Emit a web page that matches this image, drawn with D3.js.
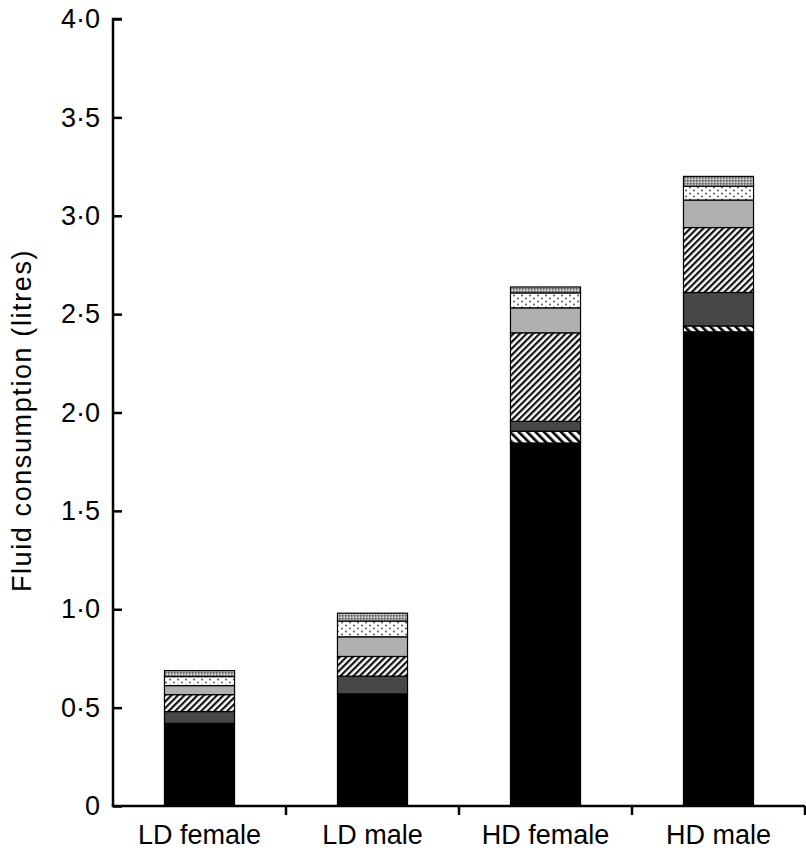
<!DOCTYPE html>
<html>
<head>
<meta charset="utf-8">
<script src="https://cdn.jsdelivr.net/npm/d3@7"></script>
<style>
  body { margin: 0; background: #fff; }
  svg text { font-family: "Liberation Sans", Arial, sans-serif; fill: #000; }
</style>
</head>
<body>
<script>
const WIDTH = 806;
const HEIGHT = 855;
const MARGIN = { top: 19, right: 1, bottom: 49, left: 113 };

// categories and series (bottom to top of each stack)
const categories = ["LD female", "LD male", "HD female", "HD male"];
const seriesKeys = ["solid", "backHatch", "darkGrey", "hatch", "lightGrey", "dotted", "checked"];

// values in litres, one per category
const solid = [0.42, 0.57, 1.845, 2.41];
const backHatch = [0.0, 0.0, 0.06, 0.03];
const darkGrey = [0.06, 0.09, 0.05, 0.17];
const hatch = [0.086, 0.1, 0.45, 0.33];
const lightGrey = [0.046, 0.1, 0.127, 0.14];
const dotted = [0.046, 0.08, 0.076, 0.07];
const checked = [0.03, 0.04, 0.03, 0.05];

const yTicks = [0, 0.5, 1, 1.5, 2, 2.5, 3, 3.5, 4];

const seriesValues = { solid, backHatch, darkGrey, hatch, lightGrey, dotted, checked };
const rows = categories.map((c, i) => {
  const row = { category: c };
  seriesKeys.forEach((k) => (row[k] = seriesValues[k][i]));
  return row;
});

const svg = d3.select("body").append("svg").attr("width", WIDTH).attr("height", HEIGHT);

// fill patterns
const defs = svg.append("defs");

const bh = defs.append("pattern").attr("id", "backHatch").attr("patternUnits", "userSpaceOnUse")
  .attr("width", 6).attr("height", 6).attr("patternTransform", "rotate(-45)");
bh.append("rect").attr("width", 6).attr("height", 6).attr("fill", "#fff");
bh.append("rect").attr("width", 2.6).attr("height", 6).attr("fill", "#000");

const h = defs.append("pattern").attr("id", "hatch").attr("patternUnits", "userSpaceOnUse")
  .attr("width", 4.6).attr("height", 4.6).attr("patternTransform", "rotate(45)");
h.append("rect").attr("width", 4.6).attr("height", 4.6).attr("fill", "#fff");
h.append("rect").attr("width", 2.2).attr("height", 4.6).attr("fill", "#111");

const dp = defs.append("pattern").attr("id", "dotted").attr("patternUnits", "userSpaceOnUse")
  .attr("width", 8).attr("height", 6);
dp.append("rect").attr("width", 8).attr("height", 6).attr("fill", "#fff");
dp.append("circle").attr("cx", 2).attr("cy", 1.5).attr("r", 1).attr("fill", "#555");
dp.append("circle").attr("cx", 6).attr("cy", 4.5).attr("r", 1).attr("fill", "#555");

const cp = defs.append("pattern").attr("id", "checked").attr("patternUnits", "userSpaceOnUse")
  .attr("width", 3).attr("height", 3);
cp.append("rect").attr("width", 3).attr("height", 3).attr("fill", "#a0a0a0");
cp.append("rect").attr("width", 1.5).attr("height", 1.5).attr("fill", "#606060");
cp.append("rect").attr("x", 1.5).attr("y", 1.5).attr("width", 1.5).attr("height", 1.5).attr("fill", "#d8d8d8");

const fills = {
  solid: "#000",
  backHatch: "url(#backHatch)",
  darkGrey: "#474747",
  hatch: "url(#hatch)",
  lightGrey: "#b0b0b0",
  dotted: "url(#dotted)",
  checked: "url(#checked)",
};

const x = d3.scaleBand()
  .domain(categories)
  .range([MARGIN.left, WIDTH - MARGIN.right])
  .paddingInner(0.595)
  .paddingOuter(0.2975);

const y = d3.scaleLinear()
  .domain([0, 4])
  .range([HEIGHT - MARGIN.bottom, MARGIN.top]);

const stacked = d3.stack().keys(seriesKeys)(rows);

// bars
svg.append("g")
  .selectAll("g")
  .data(stacked)
  .join("g")
  .attr("fill", (d) => fills[d.key])
  .selectAll("rect")
  .data((d) => d.filter((p) => p[1] - p[0] > 0))
  .join("rect")
  .attr("x", (d) => x(d.data.category))
  .attr("y", (d) => y(d[1]))
  .attr("width", x.bandwidth())
  .attr("height", (d) => y(d[0]) - y(d[1]))
  .attr("stroke", "#000")
  .attr("stroke-width", 1.2);

// y axis
const fmt = (v) => (v === 0 ? "0" : d3.format(".1f")(v).replace(".", "\u00b7"));
const yAxis = svg.append("g")
  .attr("transform", `translate(${MARGIN.left},0)`)
  .call(d3.axisRight(y).tickValues(yTicks).tickSize(9).tickFormat(fmt));
yAxis.select(".domain").attr("d", `M9,${y(4)}H0V${y(0)}`).attr("stroke-width", 2.5);
yAxis.selectAll(".tick line").attr("stroke-width", 2.5);
yAxis.selectAll(".tick text")
  .attr("x", -13)
  .attr("text-anchor", "end")
  .attr("font-size", 27)
  .attr("font-family", "Liberation Sans, Arial, sans-serif");

// x axis with ticks between categories
const xAxis = svg.append("g").attr("transform", `translate(0,${y(0)})`);
xAxis.append("line")
  .attr("x1", MARGIN.left - 1.25)
  .attr("x2", WIDTH - MARGIN.right)
  .attr("stroke", "#000")
  .attr("stroke-width", 2.5);
xAxis.selectAll(".sep")
  .data(categories.slice(1).concat(["end"]))
  .join("line")
  .attr("class", "sep")
  .attr("x1", (d, i) => MARGIN.left + x.step() * (i + 1))
  .attr("x2", (d, i) => MARGIN.left + x.step() * (i + 1))
  .attr("y1", 0)
  .attr("y2", 9)
  .attr("stroke", "#000")
  .attr("stroke-width", 2.5);
xAxis.selectAll(".lab")
  .data(categories)
  .join("text")
  .attr("class", "lab")
  .attr("x", (d) => x(d) + x.bandwidth() / 2)
  .attr("y", 38)
  .attr("text-anchor", "middle")
  .attr("font-size", 27)
  .text((d) => d);

// y axis title
svg.append("text")
  .attr("transform", `translate(31,${(y(0) + y(4)) / 2 + 8}) rotate(-90)`)
  .attr("text-anchor", "middle")
  .attr("font-size", 27)
  .attr("letter-spacing", 1.6)
  .text("Fluid consumption (litres)");
</script>
</body>
</html>
